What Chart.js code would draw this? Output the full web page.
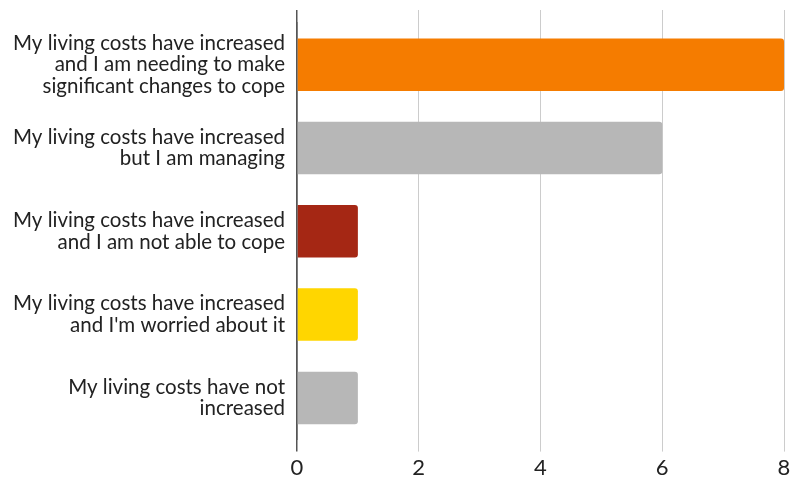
<!DOCTYPE html>
<html>
<head>
<meta charset="utf-8">
<script src="https://cdn.jsdelivr.net/npm/chart.js@4.4.1/dist/chart.umd.min.js"></script>
<style>
  html, body { margin: 0; padding: 0; background: #ffffff; }
  #wrap { width: 792px; height: 487px; position: relative; }
</style>
</head>
<body>
<div id="wrap"><canvas id="costChart"></canvas></div>
<script>
// 回答类别（多行标签）
const categories = [
  ['My living costs have increased', 'and I am needing to make', 'significant changes to cope'],
  ['My living costs have increased', 'but I am managing'],
  ['My living costs have increased', 'and I am not able to cope'],
  ['My living costs have increased', "and I'm worried about it"],
  ['My living costs have not', 'increased']
];
const responseCounts = [8, 6, 1, 1, 1];
const barColors = ['#f57c00', '#b7b7b7', '#a52714', '#ffd600', '#b7b7b7'];
const xTicks = [0, 2, 4, 6, 8];

const FONT = 'Lato, "Noto Sans", sans-serif';

const gridColor = (ctx) => ctx.tick && ctx.tick.value === 0 ? '#555555' : '#cccccc';
const gridWidth = (ctx) => ctx.tick && ctx.tick.value === 0 ? 1.5 : 1;

const canvas = document.getElementById('costChart');

new Chart(canvas.getContext('2d'), {
  type: 'bar',
  data: {
    labels: categories,
    datasets: [{
      data: responseCounts,
      backgroundColor: barColors,
      borderWidth: 0,
      borderRadius: 3,
      borderSkipped: 'start',
      barPercentage: 0.63,
      categoryPercentage: 1
    }]
  },
  options: {
    indexAxis: 'y',
    responsive: true,
    maintainAspectRatio: false,
    animation: false,
    layout: { padding: { top: 10, right: 8, bottom: 3, left: 0 } },
    plugins: {
      legend: { display: false },
      tooltip: { enabled: false }
    },
    scales: {
      x: {
        position: 'bottom',
        min: 0,
        max: 8,
        afterBuildTicks: (scale) => { scale.ticks = xTicks.map(v => ({ value: v })); },
        afterFit: (scale) => { scale.paddingRight = 0; },
        border: { display: false },
        grid: { color: gridColor, lineWidth: gridWidth, tickLength: 12 },
        ticks: {
          color: '#222222',
          font: { family: FONT, size: 22 },
          padding: 3,
          maxRotation: 0
        }
      },
      // 顶部辅助轴：让网格线向上延伸
      xTop: {
        position: 'top',
        min: 0,
        max: 8,
        afterBuildTicks: (scale) => { scale.ticks = xTicks.map(v => ({ value: v })); },
        border: { display: false },
        grid: { drawOnChartArea: false, color: gridColor, lineWidth: gridWidth, tickLength: 13 },
        ticks: { display: false }
      },
      y: {
        border: { display: true, color: '#555555', width: 1.5 },
        grid: { display: false, drawTicks: false },
        afterFit: (scale) => {
          // 多行标签不需要额外的上下留白
          scale.width = 297;
          scale.paddingTop = 0;
          scale.paddingBottom = 0;
        },
        ticks: {
          color: '#222222',
          padding: 12,
          font: { family: FONT, size: 20.5, lineHeight: 1.06 }
        }
      }
    }
  }
});
</script>
</body>
</html>
